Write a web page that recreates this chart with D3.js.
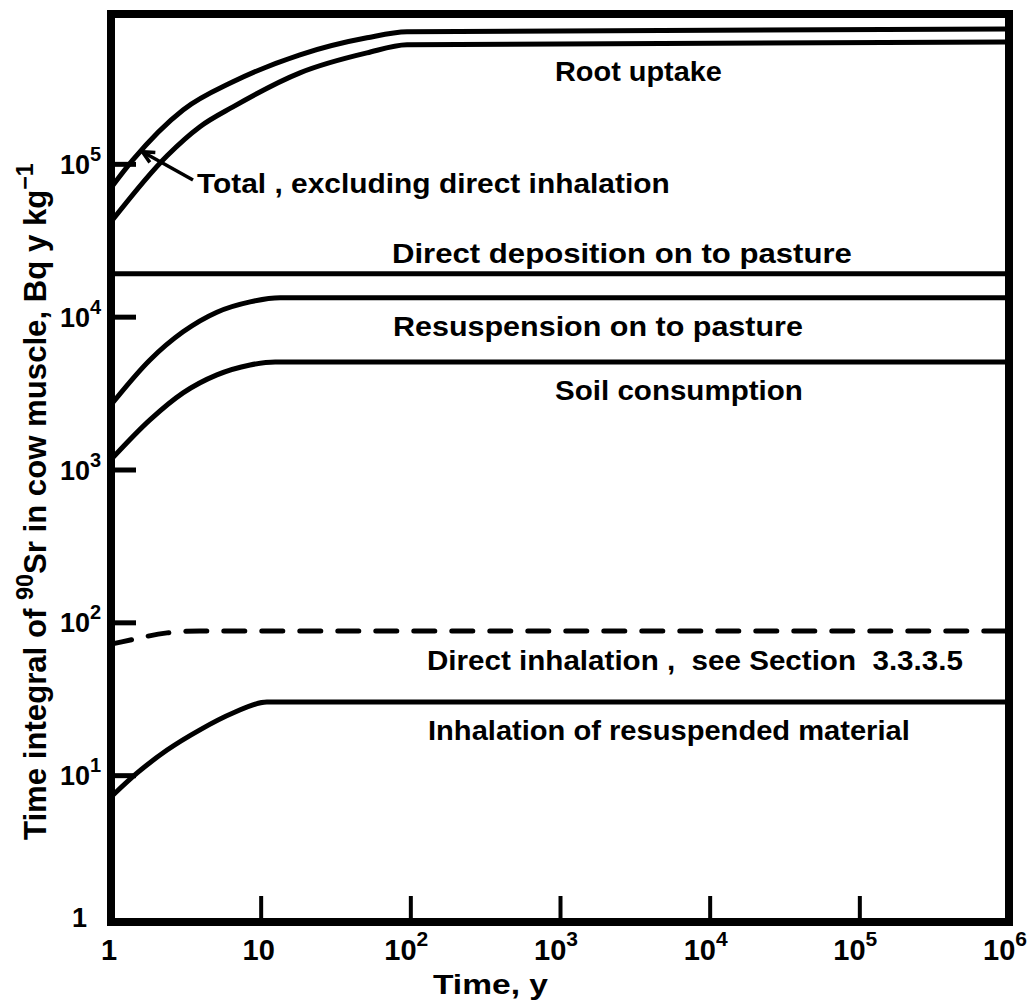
<!DOCTYPE html>
<html>
<head>
<meta charset="utf-8">
<script src="https://cdn.jsdelivr.net/npm/d3@7"></script>
<style>
  body { margin: 0; background: #fff; }
  svg text { font-family: "Liberation Sans", Arial, Helvetica, sans-serif; font-weight: bold; fill: #000; white-space: pre; }
</style>
</head>
<body>
<svg id="chart" width="1027" height="1005"></svg>
<script>
// Time since deposition, years, and 90Sr time integrals in cow muscle (Bq y kg^-1)
const totalTime   = [1, 1.40, 3.03, 6.53, 18.3, 51.3, 95, 1e6];
const totalValue  = [6.97e4, 1.06e5, 2.25e5, 3.44e5, 5.17e5, 6.68e5, 7.31e5, 7.64e5];

const rootTime    = [1, 2.37, 3.93, 6.53, 18.3, 51.3, 95, 1e6];
const rootValue   = [4.17e4, 1.13e5, 1.75e5, 2.36e5, 3.94e5, 5.32e5, 6.01e5, 6.28e5];

const depositionTime  = [1, 1e6];
const depositionValue = [1.91e4, 1.91e4];

const resuspTime  = [1, 1.82, 3.03, 5.1, 8.5, 13.5, 1e6];
const resuspValue = [2.65e3, 5.21e3, 7.96e3, 1.07e4, 1.25e4, 1.33e4, 1.33e4];

const soilTime    = [1, 1.82, 3.03, 5.1, 8.5, 12.5, 1e6];
const soilValue   = [1.16e3, 2.11e3, 3.17e3, 4.16e3, 4.83e3, 5.06e3, 5.06e3];

const directInhTime  = [1, 1.18, 2.37, 3.93, 1e6];
const directInhValue = [72, 74.5, 85.3, 87.9, 87.9];

const inhResTime  = [1, 1.49, 2.37, 3.93, 6.53, 11.0, 1e6];
const inhResValue = [7.2, 10.3, 14.6, 19.8, 25.5, 30.1, 30.1];

// Tick values (powers of ten) and their exponents
const xTickValues = [1, 10, 1e2, 1e3, 1e4, 1e5, 1e6];
const xTickExp    = [null, null, 2, 3, 4, 5, 6];
const yTickValues = [1, 10, 1e2, 1e3, 1e4, 1e5];
const yTickExp    = [null, 1, 2, 3, 4, 5];

const labelTexts = [
  "Root uptake",
  "Total , excluding direct inhalation",
  "Direct deposition on to pasture",
  "Resuspension on to pasture",
  "Soil consumption",
  "Direct inhalation ,  see Section  3.3.3.5",
  "Inhalation of resuspended material"
];

// ---- layout ----
const frame = { left: 111, right: 1009, top: 14, bottom: 922 };
const svg = d3.select("#chart");

const x = d3.scaleLog().domain([1, 1e6]).range([111, 1009]);
const y = d3.scaleLog().domain([1, 1e6]).range([928, 11]);

const zip = (ts, vs) => ts.map((t, i) => ({ t, v: vs[i] }));
const series = [
  { data: zip(totalTime, totalValue), dash: null },
  { data: zip(rootTime, rootValue), dash: null },
  { data: zip(depositionTime, depositionValue), dash: null },
  { data: zip(resuspTime, resuspValue), dash: null },
  { data: zip(soilTime, soilValue), dash: null },
  { data: zip(directInhTime, directInhValue), dash: "21,17" },
  { data: zip(inhResTime, inhResValue), dash: null }
];

svg.append("clipPath").attr("id", "plotClip")
  .append("rect")
  .attr("x", frame.left + 3).attr("y", frame.top + 3)
  .attr("width", frame.right - frame.left - 6)
  .attr("height", frame.bottom - frame.top - 6);

const line = d3.line()
  .x(d => x(d.t))
  .y(d => y(d.v))
  .curve(d3.curveMonotoneX);

svg.append("g").attr("clip-path", "url(#plotClip)")
  .selectAll("path")
  .data(series)
  .join("path")
  .attr("d", d => line(d.data))
  .attr("fill", "none")
  .attr("stroke", "#000")
  .attr("stroke-width", 5)
  .attr("stroke-linecap", d => d.dash ? "round" : "butt")
  .attr("stroke-linejoin", "round")
  .attr("stroke-dasharray", d => d.dash);

// Axes: inward ticks only; the frame supplies the axis lines
const yAxis = svg.append("g")
  .attr("transform", `translate(${frame.left},0)`)
  .call(d3.axisLeft(y).tickValues(yTickValues.slice(1)).tickSizeInner(-25).tickSizeOuter(0).tickFormat(""));
yAxis.select(".domain").remove();
yAxis.selectAll(".tick line").attr("stroke", "#000").attr("stroke-width", 5);

const xAxis = svg.append("g")
  .attr("transform", `translate(0,${frame.bottom})`)
  .call(d3.axisBottom(x).tickValues(xTickValues.slice(1, -1)).tickSizeInner(-26).tickSizeOuter(0).tickFormat(""));
xAxis.select(".domain").remove();
xAxis.selectAll(".tick line").attr("stroke", "#000").attr("stroke-width", 4);

// Frame
svg.append("rect")
  .attr("x", frame.left).attr("y", frame.top)
  .attr("width", frame.right - frame.left)
  .attr("height", frame.bottom - frame.top)
  .attr("fill", "none").attr("stroke", "#000").attr("stroke-width", 8);

// Tick labels with superscript exponents
function powerLabel(sel, exp, supSize, rise) {
  if (exp === null) return;
  sel.append("tspan").text("10");
  sel.append("tspan").attr("dy", -rise).style("font-size", supSize + "px").text(exp);
}

yTickValues.forEach((v, i) => {
  const t = svg.append("text").style("font-size", "27px")
    .attr("y", Math.min(y(v) + 10, frame.bottom + 5));
  if (yTickExp[i] === null) {
    t.attr("x", 87).attr("text-anchor", "end").text(String(v));
  } else {
    t.attr("x", 60).attr("text-anchor", "start");
    powerLabel(t, yTickExp[i], 20, 13);
  }
});

xTickValues.forEach((v, i) => {
  const t = svg.append("text").style("font-size", "29px")
    .attr("text-anchor", "middle")
    .attr("y", 960);
  if (xTickExp[i] === null) {
    t.attr("x", x(v) - 2).text(String(v));
  } else {
    t.attr("x", x(v) - 4);
    powerLabel(t, xTickExp[i], 21, 14);
  }
});

// Fit a text element horizontally into [x0, x1] by scaling its glyphs
function fitText(el, x0, x1, baseline, sy) {
  const w = el.node().getComputedTextLength();
  const sx = (x1 - x0) / w;
  el.attr("text-anchor", "start")
    .attr("transform", `translate(${x0},${baseline}) scale(${sx},${sy || 1})`);
}

// Axis titles
const xTitle = svg.append("text").style("font-size", "28px").text("Time, y");
fitText(xTitle, 433, 548, 994);

const yTitle = svg.append("text").style("font-size", "28px");
yTitle.append("tspan").text("Time integral of ");
yTitle.append("tspan").attr("dy", -12).style("font-size", "21px").text("90");
yTitle.append("tspan").attr("dy", 12).text("Sr in cow muscle, Bq y kg");
yTitle.append("tspan").attr("dy", -12).style("font-size", "21px").text("\u22121");
{
  const w = yTitle.node().getComputedTextLength();
  const top = 163, bottom = 840;
  const s = (bottom - top) / w;
  yTitle.attr("text-anchor", "start")
    .attr("transform", `translate(46,${bottom}) rotate(-90) scale(${s},1.12)`);
}

// Curve labels
const labelBoxes = [
  [555, 722, 81],
  [197, 670, 193],
  [392, 852, 263],
  [393, 803, 336],
  [555, 803, 400],
  [427, 963, 670],
  [428, 910, 740]
];
labelTexts.forEach((txt, i) => {
  const b = labelBoxes[i];
  const el = svg.append("text").style("font-size", "28px").text(txt);
  fitText(el, b[0], b[1], b[2]);
});

// Arrow from the "Total" label to its curve
const arrowTip = { t: 1.62, v: 1.2e5 };
const arrowTail = [193, 180];
const tip = [x(arrowTip.t), y(arrowTip.v)];
svg.append("line")
  .attr("x1", arrowTail[0]).attr("y1", arrowTail[1])
  .attr("x2", tip[0]).attr("y2", tip[1])
  .attr("stroke", "#000").attr("stroke-width", 3.5);
{
  const ang = Math.atan2(arrowTail[1] - tip[1], arrowTail[0] - tip[0]);
  const len = 13, spread = 0.45;
  const p1 = [tip[0] + len * Math.cos(ang - spread), tip[1] + len * Math.sin(ang - spread)];
  const p2 = [tip[0] + len * Math.cos(ang + spread), tip[1] + len * Math.sin(ang + spread)];
  svg.append("path")
    .attr("d", `M${p1[0]},${p1[1]}L${tip[0]},${tip[1]}L${p2[0]},${p2[1]}`)
    .attr("fill", "none").attr("stroke", "#000").attr("stroke-width", 3.5)
    .attr("stroke-linejoin", "miter");
}
</script>
</body>
</html>
